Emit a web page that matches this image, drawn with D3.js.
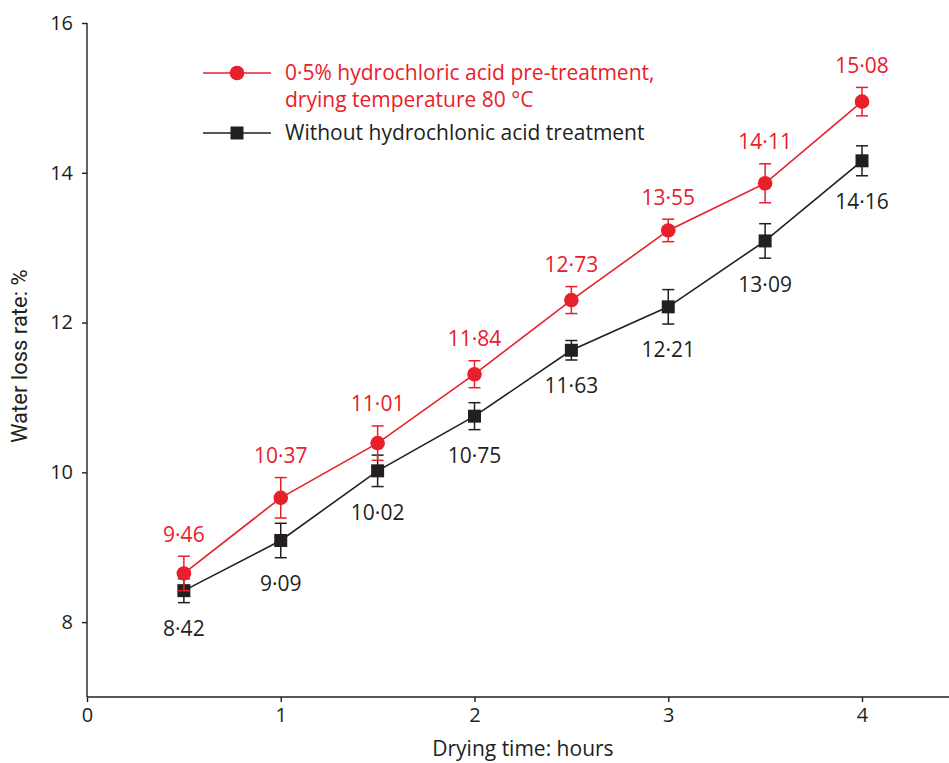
<!DOCTYPE html>
<html>
<head>
<meta charset="utf-8">
<script src="https://cdn.jsdelivr.net/npm/d3@7"></script>
<style>
  html, body { margin: 0; padding: 0; background: #fff; }
  svg { display: block; }
  text { font-family: "Open Sans", "Noto Sans", sans-serif; }
</style>
</head>
<body>
<svg id="chart" width="949" height="763"></svg>
<script>
// ---- data ----
const times = [0.5, 1, 1.5, 2, 2.5, 3, 3.5, 4];
const acidValues = [8.65, 9.66, 10.39, 11.31, 12.30, 13.23, 13.86, 14.95];
const acidErrors = [0.23, 0.27, 0.23, 0.18, 0.18, 0.15, 0.26, 0.19];
const acidLabels = ["9·46", "10·37", "11·01", "11·84", "12·73", "13·55", "14·11", "15·08"];
const plainValues = [8.42, 9.09, 10.02, 10.75, 11.63, 12.21, 13.09, 14.16];
const plainErrors = [0.16, 0.23, 0.21, 0.18, 0.13, 0.23, 0.23, 0.20];
const plainLabels = ["8·42", "9·09", "10·02", "10·75", "11·63", "12·21", "13·09", "14·16"];
const xTicks = [0, 1, 2, 3, 4];
const yTicks = [8, 10, 12, 14, 16];
const legendAcid = ["0·5% hydrochloric acid pre-treatment,", "drying temperature 80 °C"];
const legendPlain = "Without hydrochlonic acid treatment";
const xTitle = "Drying time: hours";
const yTitle = "Water loss rate: %";

const RED = "#e8202a", BLACK = "#231f20";

const svg = d3.select("#chart");
const x = d3.scaleLinear().domain([0, 4.4]).range([87, 939.5]);
const y = d3.scaleLinear().domain([7, 16]).range([697, 23]);

// axes
const xAxis = svg.append("g").attr("transform", "translate(0,697)")
  .call(d3.axisBottom(x).tickValues(xTicks).tickSize(5).tickPadding(6).tickFormat(d3.format("d")));
xAxis.select(".domain").attr("d", "M87,0H949");
const yAxis = svg.append("g").attr("transform", "translate(87,0)")
  .call(d3.axisLeft(y).tickValues(yTicks).tickSize(5).tickPadding(9).tickFormat(d3.format("d")));
yAxis.select(".domain").attr("d", "M0,697V23");
svg.selectAll(".domain, .tick line").attr("stroke", BLACK).attr("stroke-width", 1.4);
svg.selectAll(".tick text").attr("fill", BLACK).style("font-size", "20px")
  .style("font-family", "'Open Sans', sans-serif");

// titles
svg.append("text").attr("x", x(2.25)).attr("y", 756).attr("text-anchor", "middle")
  .attr("fill", BLACK).style("font-size", "21px").text(xTitle);
svg.append("text").attr("transform", `translate(27,${y(11.55)}) rotate(-90)`)
  .attr("text-anchor", "middle").attr("fill", BLACK)
  .style("font-size", "22px").style("font-family", "'Liberation Sans Narrow', 'Roboto', sans-serif")
  .text(yTitle);

function drawSeries(values, errors, labels, color, shape, labelAbove) {
  const pts = times.map((t, i) => ({t, v: values[i], e: errors[i], l: labels[i]}));
  const g = svg.append("g");
  g.append("path").datum(pts)
    .attr("d", d3.line().x(d => x(d.t)).y(d => y(d.v)))
    .attr("fill", "none").attr("stroke", color).attr("stroke-width", 1.6);
  const eb = g.selectAll(".eb").data(pts).enter().append("g");
  eb.append("line").attr("x1", d => x(d.t)).attr("x2", d => x(d.t))
    .attr("y1", d => y(d.v - d.e)).attr("y2", d => y(d.v + d.e))
    .attr("stroke", color).attr("stroke-width", 1.5);
  [1, -1].forEach(s => {
    eb.append("line").attr("x1", d => x(d.t) - 6).attr("x2", d => x(d.t) + 6)
      .attr("y1", d => y(d.v + s * d.e)).attr("y2", d => y(d.v + s * d.e))
      .attr("stroke", color).attr("stroke-width", 1.5);
  });
  if (shape === "circle") {
    g.selectAll(".m").data(pts).enter().append("circle")
      .attr("cx", d => x(d.t)).attr("cy", d => y(d.v)).attr("r", 7.3).attr("fill", color);
  } else {
    g.selectAll(".m").data(pts).enter().append("rect")
      .attr("x", d => x(d.t) - 6.5).attr("y", d => y(d.v) - 6.5)
      .attr("width", 13).attr("height", 13).attr("fill", color);
  }
  g.selectAll(".lbl").data(pts).enter().append("text")
    .attr("x", d => x(d.t))
    .attr("y", d => labelAbove ? y(d.v + d.e) - 22 : y(d.v - d.e) + 26)
    .attr("dy", "0.35em").attr("text-anchor", "middle")
    .attr("fill", color).style("font-size", "21px").text(d => d.l);
}

drawSeries(plainValues, plainErrors, plainLabels, BLACK, "square", false);
drawSeries(acidValues, acidErrors, acidLabels, RED, "circle", true);

// legend
const lg = svg.append("g");
lg.append("line").attr("x1", 203).attr("x2", 271).attr("y1", 73).attr("y2", 73)
  .attr("stroke", RED).attr("stroke-width", 1.6);
lg.append("circle").attr("cx", 237).attr("cy", 73).attr("r", 7.3).attr("fill", RED);
lg.selectAll(".la").data(legendAcid).enter().append("text")
  .attr("x", 285).attr("y", (d, i) => 73 + i * 27).attr("dy", "0.35em")
  .attr("fill", RED).style("font-size", "21px").text(d => d);
lg.append("line").attr("x1", 203).attr("x2", 271).attr("y1", 133).attr("y2", 133)
  .attr("stroke", BLACK).attr("stroke-width", 1.6);
lg.append("rect").attr("x", 230.5).attr("y", 126.5).attr("width", 13).attr("height", 13).attr("fill", BLACK);
lg.append("text").attr("x", 285).attr("y", 133).attr("dy", "0.35em")
  .attr("fill", BLACK).style("font-size", "21px").text(legendPlain);
</script>
</body>
</html>
